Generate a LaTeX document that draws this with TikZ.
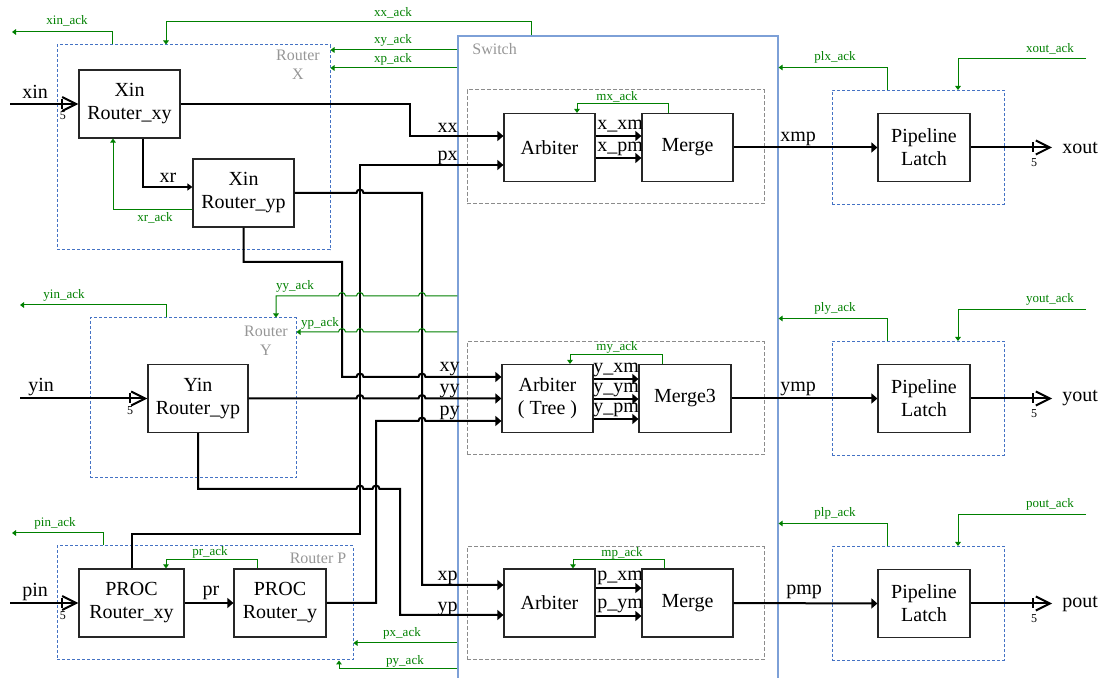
\documentclass[tikz,border=0pt]{standalone}
\usepackage{fontspec}
\setmainfont{Liberation Serif}
\usetikzlibrary{arrows.meta}
\definecolor{rtblue}{RGB}{68,114,196}
\definecolor{swblue}{RGB}{125,160,215}
\definecolor{ackgreen}{RGB}{0,128,0}
\definecolor{lblgray}{RGB}{150,150,150}
% small hop over a crossing wire, going right / going left
\newcommand\hopr[2]{-- ({#1-3.5},#2) arc[start angle=180,end angle=0,radius=1.75pt]}
\newcommand\hopl[2]{-- ({#1+3.5},#2) arc[start angle=0,end angle=180,radius=1.75pt]}
\begin{document}
\begin{tikzpicture}[x=0.5pt,y=-0.5pt,
	blk/.style={draw=black!85,line width=0.6pt,minimum height=34pt,align=center,inner sep=1pt,font=\fontsize{10}{11.5}\selectfont},
	rbox/.style={draw=rtblue,line width=0.5pt,dash pattern=on 1.5pt off 1pt},
	sbox/.style={draw=black!45,line width=0.5pt,dash pattern=on 2pt off 1pt},
	bus/.style={line width=1pt,-{Triangle[length=3pt,width=5pt]}},
	wire/.style={line width=0.6pt,-{Triangle[length=2.5pt,width=3.5pt]}},
	io/.style={line width=1pt,-{Straight Barb[length=7pt,width=7pt]}},
	ack/.style={ackgreen,line width=0.5pt,-{Triangle[length=2pt,width=2.8pt]}},
	acklbl/.style={ackgreen,font=\fontsize{6.5}{7}\selectfont,inner sep=0pt},
	lbl/.style={font=\fontsize{10}{11}\selectfont,inner sep=0pt},
	grylbl/.style={lblgray,font=\fontsize{8}{9.5}\selectfont,align=center,inner sep=0pt},
	num/.style={font=\fontsize{6}{6}\selectfont,inner sep=0pt}]
	\useasboundingbox (0,0) rectangle (1104,678);
	% frames
	\node [rbox,minimum width=136.5pt,minimum height=102.5pt] (rx) at (193.5,147.5) {};
	\node [rbox,minimum width=103pt,minimum height=80pt] (ry) at (193,398) {};
	\node [rbox,minimum width=148pt,minimum height=57pt] (rp) at (205,603) {};
	\node [grylbl] (rxl) at (298,65) {Router\\X};
	\node [grylbl] (ryl) at (266,341) {Router\\Y};
	\node [grylbl] (rpl) at (318,558) {Router P};
	\node [draw=swblue,line width=0.6pt,minimum width=160pt,minimum height=332pt,inner sep=0pt] (sw) at (618,368) {};
	\node [grylbl,anchor=west] (swl) at (472,49) {Switch};
	\node [sbox,minimum width=148.5pt,minimum height=57pt] (sx) at (615.5,147) {};
	\node [sbox,minimum width=148.5pt,minimum height=56.5pt] (sy) at (615.5,398.5) {};
	\node [sbox,minimum width=148.5pt,minimum height=56.5pt] (sp) at (615.5,603.5) {};
	% blocks
	\node [blk,minimum width=50.5pt] (xinxy) at (129.5,104) {Xin\\Router\_xy};
	\node [blk,minimum width=50.5pt] (xinyp) at (243.5,193) {Xin\\Router\_yp};
	\node [blk,minimum width=50pt] (yinyp) at (198,398.5) {Yin\\Router\_yp};
	\node [blk,minimum width=52.5pt] (procxy) at (131.5,603) {PROC\\Router\_xy};
	\node [blk,minimum width=46pt] (procy) at (280,603) {PROC\\Router\_y};
	\node [blk,minimum width=45.5pt] (arbx) at (549.5,147.5) {Arbiter};
	\node [blk,minimum width=45.5pt] (mrgx) at (687.5,147.5) {Merge};
	\node [blk,minimum width=45.5pt] (arby) at (547.5,398.5) {Arbiter\\( Tree )};
	\node [blk,minimum width=46pt] (mrgy) at (685,398.5) {Merge3};
	\node [blk,minimum width=45.5pt] (arbp) at (549.5,603) {Arbiter};
	\node [blk,minimum width=45.5pt] (mrgp) at (687.5,603) {Merge};
	% inputs
	\coordinate (xin) at (10,104);
	\coordinate (yin) at (20,398.5);
	\coordinate (pin) at (10,603);
	\draw [io] (xin) -- (xinxy.west);
	\draw [io] (yin) -- (yinyp.west);
	\draw [io] (pin) -- (procxy.west);
	\draw [line width=0.6pt] (62,99) -- (62,109) (130,393.5) -- (130,403.5) (62,598) -- (62,608);
	\node [num] (n5a) at (63,116) {5};
	\node [num] (n5b) at (130,411) {5};
	\node [num] (n5c) at (63,616) {5};
	\node [lbl,anchor=base west] (xinl) at (22,99) {xin};
	\node [lbl,anchor=base west] (yinl) at (28,392) {yin};
	\node [lbl,anchor=base west] (pinl) at (22,597) {pin};
	% routers
	\draw [wire] (143,0 |- xinxy.south) |- (xinyp.west |- 0,187);
	\node [lbl] (xrl) at (168,178) {xr};
	\draw [bus] (procxy.east) -- (procy.west);
	\node [lbl,anchor=base] (prl) at (211,596) {pr};
	% wires to the switch
	\draw [bus] (xinxy.east) -| (410,136) -- (arbx.west |- 0,136);
	\draw [bus] (procxy.north) |- (360,534) -- (360,165) -- (arbx.west |- 0,165);
	\draw [bus] (xinyp.east) \hopr{360}{193} -- (422,193) -- (422,585) -- (arbp.west |- 0,585);
	\draw [bus] (xinyp.south) |- (342,262) -- (342,377) \hopr{360}{377} \hopr{422}{377} -- (arby.west |- 0,377);
	\draw [bus] (yinyp.east) \hopr{360}{398.5} \hopr{422}{398.5} -- (arby.west);
	\draw [bus] (procy.east) -| (376,421) \hopr{422}{421} -- (arby.west |- 0,421);
	\draw [bus] (yinyp.south) -- (198,489) \hopr{360}{489} \hopr{376}{489} -- (400,489) -- (400,615) -- (arbp.west |- 0,615);
	\node [lbl,anchor=base east] (xxl) at (458,133) {xx};
	\node [lbl,anchor=base east] (pxl) at (458,161) {px};
	\node [lbl,anchor=base east] (xyl) at (460,372) {xy};
	\node [lbl,anchor=base east] (yyl) at (460,394) {yy};
	\node [lbl,anchor=base east] (pyl) at (460,416) {py};
	\node [lbl,anchor=base east] (xpl) at (458,581) {xp};
	\node [lbl,anchor=base east] (ypl) at (458,611) {yp};
	% arbiter to merge
	\draw [bus] (arbx.east |- 0,136) -- (mrgx.west |- 0,136);
	\draw [bus] (arbx.east |- 0,158) -- (mrgx.west |- 0,158);
	\draw [bus] (arby.east |- 0,379) -- (mrgy.west |- 0,379);
	\draw [bus] (arby.east |- 0,399) -- (mrgy.west |- 0,399);
	\draw [bus] (arby.east |- 0,419) -- (mrgy.west |- 0,419);
	\draw [bus] (arbp.east |- 0,588) -- (mrgp.west |- 0,588);
	\draw [bus] (arbp.east |- 0,616) -- (mrgp.west |- 0,616);
	\node [lbl,anchor=base west] (xxml) at (597,130) {x\_xm};
	\node [lbl,anchor=base west] (xpml) at (597,152) {x\_pm};
	\node [lbl,anchor=base west] (yxml) at (593,373) {y\_xm};
	\node [lbl,anchor=base west] (yyml) at (593,393) {y\_ym};
	\node [lbl,anchor=base west] (ypml) at (593,413) {y\_pm};
	\node [lbl,anchor=base west] (pxml) at (597,581) {p\_xm};
	\node [lbl,anchor=base west] (pyml) at (597,609) {p\_ym};
	% acks
	\coordinate (xina) at (12,32);
	\coordinate (yina) at (20,305);
	\coordinate (pina) at (12,533);
	\draw [ack] (rx.north -| 112,0) |- (xina);
	\draw [ack] (sw.north -| 531,0) |- (166,22) -- (rx.north -| 166,0);
	\draw [ack] (sw.west |- 0,50) -- (rx.east |- 0,50);
	\draw [ack] (sw.west |- 0,68) -- (rx.east |- 0,68);
	\draw [ack] (xinyp.west |- 0,210) -| (113,0 |- xinxy.south);
	\draw [ack] (mrgx.north -| 668,0) |- (577,104) -- (arbx.north -| 577,0);
	\draw [ack] (ry.north -| 166,0) |- (yina);
	\draw [ack] (sw.west |- 0,296) \hopl{422}{296} \hopl{360}{296} \hopl{342}{296} -| (ry.north -| 276,0);
	\draw [ack] (sw.west |- 0,332) \hopl{422}{332} \hopl{360}{332} \hopl{342}{332} -- (ry.east |- 0,332);
	\draw [ack] (mrgy.north -| 662,0) |- (570,355) -- (arby.north -| 570,0);
	\draw [ack] (rp.north -| 103,0) |- (pina);
	\draw [ack] (procy.north -| 257,0) |- (166,560) -- (procxy.north -| 166,0);
	\draw [ack] (sw.west |- 0,643) -- (rp.east |- 0,643);
	\draw [ack] (sw.west |- 0,669) -| (rp.south -| 339,0);
	\draw [ack] (mrgp.north -| 664,0) |- (573,560) -- (arbp.north -| 573,0);
	\node [acklbl] (xinal) at (67,21) {xin\_ack};
	\node [acklbl] (xxal) at (393,13) {xx\_ack};
	\node [acklbl] (xyal) at (393,40) {xy\_ack};
	\node [acklbl] (xpal) at (393,59) {xp\_ack};
	\node [acklbl] (xral) at (155,218) {xr\_ack};
	\node [acklbl] (mxal) at (617,97) {mx\_ack};
	\node [acklbl] (yinal) at (64,295) {yin\_ack};
	\node [acklbl] (yyal) at (295,286) {yy\_ack};
	\node [acklbl] (ypal) at (320,323) {yp\_ack};
	\node [acklbl] (myal) at (617,347) {my\_ack};
	\node [acklbl] (pinal) at (55,523) {pin\_ack};
	\node [acklbl] (pral) at (210,552) {pr\_ack};
	\node [acklbl] (pxal) at (402,633) {px\_ack};
	\node [acklbl] (pyal) at (405,661) {py\_ack};
	\node [acklbl] (mpal) at (622,553) {mp\_ack};
	% pipeline latches and outputs
	\foreach \n/\y in {x/147.5,y/398.5,p/603.5}{
		\node [rbox,minimum width=86pt,minimum height=57pt] (l\n) at (918,\y) {};
		\node [blk,minimum width=46pt] (lat\n) at (924,\y) {Pipeline\\Latch};
		\coordinate (\n out) at (1052,\y);
		\draw [io] (lat\n.east) -- (\n out);
		\draw [line width=0.6pt] (1033,\y-5) -- (1033,\y+5);
		\node [num] (n5\n) at (1034,\y+15) {5};
		\node [lbl,anchor=west] (\n outl) at (1062,\y) {{\n}out};
		\coordinate (\n oa) at (1086,\y-89);
		\draw [ack] (\n oa) -| (l\n.north -| 958,0);
		\node [acklbl] (\n oal) at (1050,\y-99) {{\n}out\_ack};
		\draw [ack] (l\n.north -| 887,0) |- (sw.east |- 0,\y-80);
		\node [acklbl] (pl\n al) at (835,\y-90) {pl{\n}\_ack};
	}
	% merge to latch
	\draw [bus] (mrgx.east) -- (latx.west);
	\draw [bus] (mrgy.east) -- (laty.west);
	\draw [bus] (mrgp.east) -- (latp.west);
	\node [lbl,anchor=base west] (xmpl) at (780,142) {xmp};
	\node [lbl,anchor=base west] (ympl) at (780,392) {ymp};
	\node [lbl,anchor=base west] (pmpl) at (786,595) {pmp};
\end{tikzpicture}
\end{document}
